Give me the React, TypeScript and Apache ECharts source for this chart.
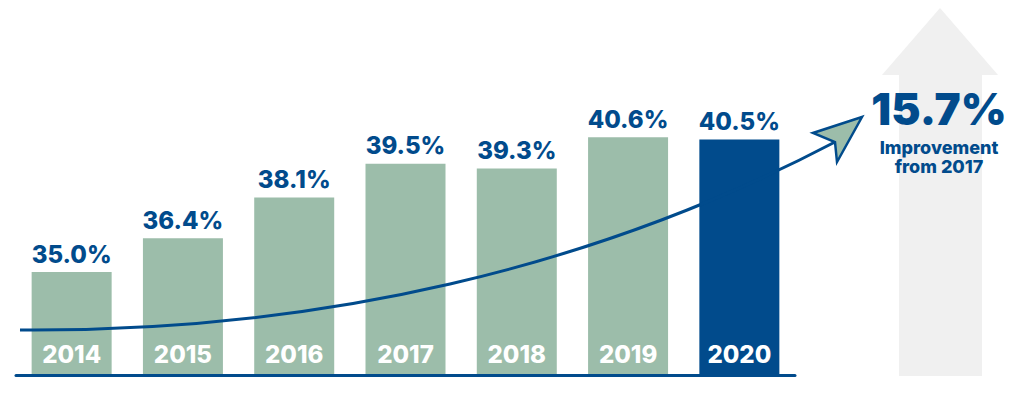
import React, { useEffect, useRef } from "react";
import * as echarts from "echarts";

const years = ["2014", "2015", "2016", "2017", "2018", "2019", "2020"];
const rates = [35.0, 36.4, 38.1, 39.5, 39.3, 40.6, 40.5];
const highlightYear = "2020";
const improvementText = "15.7%";
const improvementCaption = ["Improvement", "from 2017"];

const GREEN = "#9cbdaa";
const NAVY = "#014b8c";
const FONT = "Inter";

export default function App() {
  const ref = useRef<HTMLDivElement>(null);
  useEffect(() => {
    if (!ref.current) return;
    const chart = echarts.init(ref.current, null, { renderer: "svg" });
    chart.setOption({
      animation: false,
      grid: { left: 16, width: 779, top: 0, bottom: 21, containLabel: false },
      xAxis: {
        type: "category",
        data: years,
        z: 10,
        axisLine: { show: true, lineStyle: { color: NAVY, width: 3 } },
        axisTick: { show: false },
        axisLabel: {
          inside: true,
          margin: 9,
          color: "#ffffff",
          fontFamily: FONT,
          fontWeight: 800,
          fontSize: 24,
        },
      },
      yAxis: {
        type: "value",
        min: 30.73,
        max: 46.29,
        show: false,
        splitLine: { show: false },
      },
      series: [
        {
          type: "bar",
          barWidth: 80,
          data: rates.map((v, i) => ({
            value: v,
            itemStyle: { color: years[i] === highlightYear ? NAVY : GREEN },
          })),
          label: {
            show: true,
            position: "top",
            distance: 6,
            color: NAVY,
            fontFamily: FONT,
            fontWeight: 800,
            fontSize: 24,
            formatter: (p: any) => Number(p.value).toFixed(1) + "%",
          },
        },
      ],
      graphic: [
        {
          type: "polygon",
          z: 0,
          shape: {
            points: [
              [940, 8],
              [998, 75],
              [982, 75],
              [982, 376],
              [899, 376],
              [899, 75],
              [882, 75],
            ],
          },
          style: { fill: "#f0f0f0" },
        },
        {
          type: "bezierCurve",
          z: 100,
          shape: { x1: 20, y1: 330, cpx1: 320, cpy1: 332, cpx2: 595, cpy2: 268, x2: 835, y2: 142 },
          style: { stroke: NAVY, lineWidth: 3, fill: null },
        },
        {
          type: "polygon",
          z: 101,
          shape: {
            points: [
              [862, 117],
              [813, 133],
              [835, 142],
              [837, 162],
            ],
          },
          style: { fill: GREEN, stroke: NAVY, lineWidth: 2.5, lineJoin: "miter" },
        },
        {
          type: "text",
          z: 102,
          x: 939,
          y: 109,
          style: {
            text: improvementText,
            fill: NAVY,
            font: `900 44px ${FONT}`,
            textAlign: "center",
            textVerticalAlign: "middle",
          },
        },
        {
          type: "text",
          z: 102,
          x: 939,
          y: 147,
          style: {
            text: improvementCaption[0],
            fill: NAVY,
            font: `800 18px ${FONT}`,
            textAlign: "center",
            textVerticalAlign: "middle",
          },
        },
        {
          type: "text",
          z: 102,
          x: 939,
          y: 166,
          style: {
            text: improvementCaption[1],
            fill: NAVY,
            font: `800 18px ${FONT}`,
            textAlign: "center",
            textVerticalAlign: "middle",
          },
        },
      ],
    });
    return () => chart.dispose();
  }, []);
  return (
    <div
      ref={ref}
      style={{ position: "absolute", left: 0, top: 0, width: 1024, height: 396 }}
    />
  );
}
